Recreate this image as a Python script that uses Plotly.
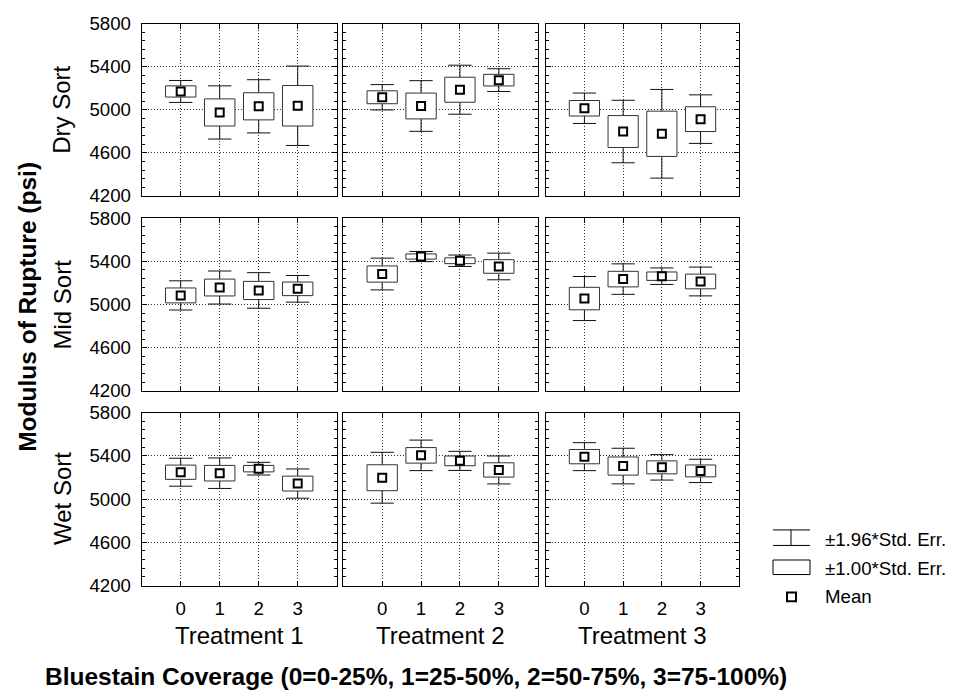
import plotly.graph_objects as go

# ---------------- data ----------------
categories = [0, 1, 2, 3]
tick_labels_x = ["0", "1", "2", "3"]
treatments = ["Treatment 1", "Treatment 2", "Treatment 3"]
sorts = ["Dry Sort", "Mid Sort", "Wet Sort"]
y_ticks = [4200, 4600, 5000, 5400, 5800]

# means per treatment (rows of lists = Treatment 1..3), columns = coverage 0..3
dry_mean = [[5170, 4975, 5032, 5037], [5116, 5035, 5186, 5275], [5014, 4798, 4777, 4913]]
dry_se = [[52, 126, 126, 188], [60, 120, 116, 54], [72, 148, 210, 115]]
mid_mean = [[5084, 5157, 5130, 5145], [5282, 5444, 5405, 5352], [5055, 5235, 5262, 5213]]
mid_se = [[69, 78, 84, 63], [75, 24, 27, 63], [104, 72, 39, 68]]
wet_mean = [[5248, 5239, 5281, 5143], [5197, 5404, 5353, 5269], [5392, 5305, 5293, 5260]]
wet_se = [[66, 72, 30, 69], [120, 72, 45, 66], [66, 84, 60, 55]]

BOX_MULT = 1.00
WHISK_MULT = 1.96

# ---------------- layout geometry (pixels) ----------------
W, H = 962, 700
col_px = [(141.7, 336.7), (343.3, 537.7), (545.7, 739.3)]
row_px = [(14, 191.7), (214.5, 392.7), (415, 593.3)]
BOX_HW = 0.39
CAP_HW = 0.30
FONT = "Liberation Sans, Arial, sans-serif"
LINE = "#111111"
GRID_DASH = "1px,2px"

def px(x):
    return x / W

def py(y):
    return 1 - y / H

fig = go.Figure()
layout_axes = {}

rows = [(dry_mean, dry_se), (mid_mean, mid_se), (wet_mean, wet_se)]
for r, (means, ses) in enumerate(rows):
    for c in range(3):
        idx = r * 3 + c + 1
        xa = "x" if idx == 1 else f"x{idx}"
        ya = "y" if idx == 1 else f"y{idx}"
        wx, wy, bx, by = [], [], [], []
        for k, cat in enumerate(categories):
            m = means[c][k]
            s = ses[c][k]
            hi1, lo1 = m + BOX_MULT * s, m - BOX_MULT * s
            hi2, lo2 = m + WHISK_MULT * s, m - WHISK_MULT * s
            wx += [cat, cat, None, cat - CAP_HW, cat + CAP_HW, None,
                   cat, cat, None, cat - CAP_HW, cat + CAP_HW, None]
            wy += [hi1, hi2, None, hi2, hi2, None,
                   lo1, lo2, None, lo2, lo2, None]
            bx += [cat - BOX_HW, cat + BOX_HW, cat + BOX_HW, cat - BOX_HW, cat - BOX_HW, None]
            by += [lo1, lo1, hi1, hi1, lo1, None]
        fig.add_trace(go.Scatter(x=wx, y=wy, mode="lines", xaxis=xa, yaxis=ya,
                                 line=dict(color=LINE, width=1), showlegend=False,
                                 hoverinfo="skip"))
        fig.add_trace(go.Scatter(x=bx, y=by, mode="lines", fill="toself",
                                 fillcolor="white", xaxis=xa, yaxis=ya,
                                 line=dict(color="#333333", width=1), showlegend=False,
                                 hoverinfo="skip"))
        fig.add_trace(go.Scatter(x=categories, y=means[c], mode="markers",
                                 xaxis=xa, yaxis=ya, showlegend=False,
                                 marker=dict(symbol="square", size=8, color="white",
                                             line=dict(color="black", width=2))))

        xd = [px(col_px[c][0]), px(col_px[c][1])]
        yd = [py(row_px[r][1]), py(row_px[r][0])]
        xkey = "xaxis" if idx == 1 else f"xaxis{idx}"
        ykey = "yaxis" if idx == 1 else f"yaxis{idx}"
        layout_axes[xkey] = dict(
            domain=xd, anchor=ya, range=[-1, 4], tickmode="array",
            tickvals=categories, ticktext=tick_labels_x,
            showticklabels=(r == 2), ticks="inside", ticklen=5, tickcolor="black",
            showgrid=True, griddash=GRID_DASH, gridcolor="#333333", gridwidth=1,
            showline=True, linecolor="black", linewidth=1, mirror="ticks",
            zeroline=False, fixedrange=True, ticklabelstandoff=6,
            tickfont=dict(family=FONT, size=18.67, color="black"))
        layout_axes[ykey] = dict(
            domain=yd, anchor=xa, range=[4200, 5800], tickmode="linear",
            tick0=4200, dtick=400,
            showticklabels=(c == 0), ticks="inside", ticklen=5, tickcolor="black",
            minor=dict(tickmode="linear", tick0=4200, dtick=80, ticks="inside",
                       ticklen=3, tickcolor="black", showgrid=False),
            showgrid=True, griddash=GRID_DASH, gridcolor="#333333", gridwidth=1,
            showline=True, linecolor="black", linewidth=1, mirror="ticks",
            zeroline=False, fixedrange=True, ticklabelstandoff=6,
            tickfont=dict(family=FONT, size=18.67, color="black"))

annotations = []
# treatment labels
for c, name in enumerate(treatments):
    annotations.append(dict(text=name, x=px((col_px[c][0] + col_px[c][1]) / 2), y=py(645),
                            xref="paper", yref="paper", showarrow=False,
                            xanchor="center", yanchor="middle",
                            font=dict(family=FONT, size=24, color="black")))
# row labels
for r, name in enumerate(sorts):
    annotations.append(dict(text=name, x=px(62), y=py((row_px[r][0] + row_px[r][1]) / 2),
                            xref="paper", yref="paper", showarrow=False, textangle=-90,
                            xanchor="center", yanchor="middle",
                            font=dict(family=FONT, size=24, color="black")))
# axis titles
annotations.append(dict(text="<b>Modulus of Rupture (psi)</b>", x=px(28), y=py(306),
                        xref="paper", yref="paper", showarrow=False, textangle=-90,
                        xanchor="center", yanchor="middle",
                        font=dict(family=FONT, size=24.5, color="black")))
annotations.append(dict(text="<b>Bluestain Coverage (0=0-25%, 1=25-50%, 2=50-75%, 3=75-100%)</b>",
                        x=px(416), y=py(687), xref="paper", yref="paper", showarrow=False,
                        xanchor="center", yanchor="middle",
                        font=dict(family=FONT, size=24.5, color="black")))
# legend texts
legend_items = ["±1.96*Std. Err.", "±1.00*Std. Err.", "Mean"]
legend_y = [546, 576, 605]
for t, yy in zip(legend_items, legend_y):
    annotations.append(dict(text=t, x=px(823), y=py(yy), xref="paper", yref="paper",
                            showarrow=False, xanchor="left", yanchor="middle",
                            font=dict(family=FONT, size=18.67, color="black")))

shapes = [
    dict(type="line", xref="paper", yref="paper", x0=px(773), x1=px(810), y0=py(536), y1=py(536),
         line=dict(color="black", width=1)),
    dict(type="line", xref="paper", yref="paper", x0=px(773), x1=px(810), y0=py(552), y1=py(552),
         line=dict(color="black", width=1)),
    dict(type="line", xref="paper", yref="paper", x0=px(791), x1=px(791), y0=py(536), y1=py(552),
         line=dict(color="black", width=1)),
    dict(type="rect", xref="paper", yref="paper", x0=px(773), x1=px(810), y0=py(582), y1=py(567),
         line=dict(color="black", width=1), fillcolor="white"),
    dict(type="rect", xref="paper", yref="paper", x0=px(787), x1=px(796), y0=py(609.5), y1=py(600.5),
         line=dict(color="black", width=2), fillcolor="white"),
]

fig.update_layout(
    width=W, height=H, margin=dict(l=0, r=0, t=0, b=0),
    paper_bgcolor="white", plot_bgcolor="white",
    showlegend=False, annotations=annotations, shapes=shapes,
    font=dict(family=FONT, color="black"),
    **layout_axes,
)

fig.write_html("out.html")
